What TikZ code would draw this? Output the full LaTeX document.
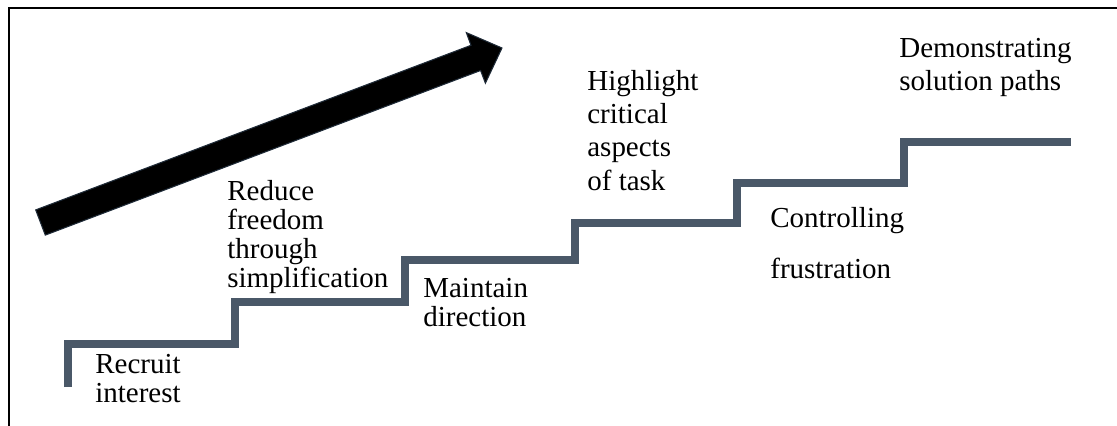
\documentclass[tikz,border=0pt]{standalone}
\usepackage{fontspec}
\setmainfont{Liberation Serif}
\definecolor{stairgray}{HTML}{4A5868}
\definecolor{arrowedge}{HTML}{1F2B38}
\tikzset{
  steptext/.style={anchor=base west, inner sep=0pt, align=left, font=\fontsize{16.5}{16.5}\selectfont},
  widetext/.style={steptext, font=\fontsize{16.5}{18.8}\selectfont}
}
\begin{document}
\begin{tikzpicture}[x=0.02cm, y=0.02cm]
\useasboundingbox (0,0) rectangle (1117,-426);
\draw [black, line width=1.5pt] (9,-426) -- (9,-8) -- (1117,-8);
% rising arrow
\fill [black, draw=arrowedge, line width=0.6pt] (35.7,-209.9) -- (471.0,-45.3) -- (466.3,-32.6) -- (502,-48) -- (485.4,-83.2) -- (480.6,-70.5) -- (45.3,-235.1) -- cycle;
% stairs
\draw [stairgray, line width=5.1pt] (68,-387) -- (68,-344) -- (235,-344) -- (235,-302) -- (405,-302) -- (405,-260) -- (575,-260) -- (575,-223) -- (737,-223) -- (737,-183) -- (904,-183) -- (904,-142) -- (1071,-142);
% labels (anchored at last baseline)
\draw (95,-402) node[steptext] (recruit) {Recruit\\interest};
\draw (227,-287) node[steptext] (reduce) {Reduce\\freedom\\through\\simplification};
\draw (423,-326) node[steptext] (maintain) {Maintain\\direction};
\draw (587,-190) node[widetext] (highlight) {Highlight\\critical\\aspects\\of task};
\draw (770,-278) node[steptext, font=\fontsize{16.5}{28.5}\selectfont] (control) {Controlling\\frustration};
\draw (899,-91) node[widetext] (demo) {Demonstrating\\solution paths};
\end{tikzpicture}
\end{document}
